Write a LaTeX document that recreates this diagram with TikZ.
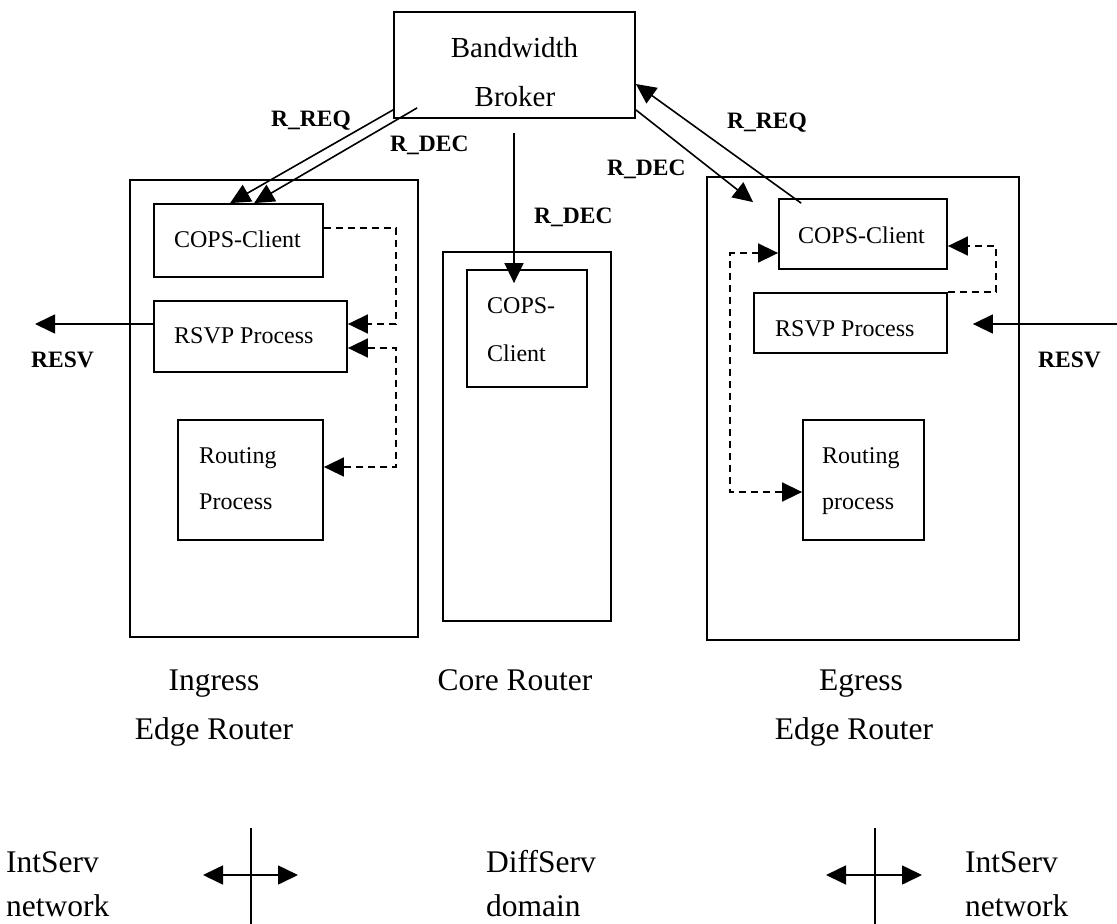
\documentclass[tikz,border=0pt]{standalone}
\usepackage{fontspec}
\setmainfont{Liberation Serif}
\usetikzlibrary{arrows.meta}
\begin{document}
\begin{tikzpicture}[x=1pt,y=-1pt,
  >={Triangle[length=20pt,width=19pt]},
  box/.style={draw, line width=1.8pt, inner sep=0pt},
  txt/.style={inner sep=0pt, font=\fontsize{24}{28}\selectfont},
  big/.style={inner sep=0pt, font=\fontsize{29}{34}\selectfont},
  caption/.style={inner sep=0pt, font=\fontsize{31.5}{36}\selectfont},
  msg/.style={inner sep=0pt, font=\fontsize{23.5}{28}\selectfont\bfseries},
  link/.style={line width=1.6pt, ->},
  local/.style={line width=1.6pt, dash pattern=on 7pt off 5pt},
  border/.style={line width=1.3pt}
]
\useasboundingbox (0,0) rectangle (1117,924);

% Bandwidth broker
\node[box, minimum width=241pt, minimum height=106pt] (broker) at (514.5,65) {};
\node[big, anchor=base] (bbw) at (514.5,57) {Bandwidth};
\node[big, anchor=base] (bbr) at (515,106) {Broker};

% Ingress edge router
\node[box, minimum width=288pt, minimum height=457pt] (ingress) at (274,408.5) {};
\node[box, minimum width=169pt, minimum height=73pt] (iCOPS) at (238.5,240.5) {};
\node[txt, anchor=base] (iCOPSt) at (237.5,247) {COPS-Client};
\node[box, minimum width=193pt, minimum height=71pt] (iRSVP) at (250.5,336.5) {};
\node[txt, anchor=base west] (iRSVPt) at (174,343) {RSVP Process};
\node[box, minimum width=145pt, minimum height=120pt] (iRout) at (250.5,480) {};
\node[txt, anchor=base west] (iRoutt1) at (199,463) {Routing};
\node[txt, anchor=base west] (iRoutt2) at (199,509) {Process};

% Core router
\node[box, minimum width=168pt, minimum height=369pt] (core) at (527,436.5) {};
\node[box, minimum width=120pt, minimum height=117pt] (cCOPS) at (527,328.5) {};
\node[txt, anchor=base west] (cCOPSt1) at (487,313) {COPS-};
\node[txt, anchor=base west] (cCOPSt2) at (487,361) {Client};

% Egress edge router
\node[box, minimum width=312pt, minimum height=463pt] (egress) at (863,408.5) {};
\node[box, minimum width=168pt, minimum height=70pt] (eCOPS) at (863,234) {};
\node[txt, anchor=base] (eCOPSt) at (861.5,243) {COPS-Client};
\node[box, minimum width=193pt, minimum height=60pt] (eRSVP) at (850.5,323) {};
\node[txt, anchor=base west] (eRSVPt) at (775,336) {RSVP Process};
\node[box, minimum width=121pt, minimum height=120pt] (eRout) at (863.5,480) {};
\node[txt, anchor=base west] (eRoutt1) at (822,463) {Routing};
\node[txt, anchor=base west] (eRoutt2) at (822,509) {process};

% COPS messages
\draw[link] ([yshift=9pt]broker.south west) -- ([xshift=77pt]iCOPS.north west);
\draw[link] ([xshift=24pt,yshift=11pt]broker.south west) -- ([xshift=101pt]iCOPS.north west);
\draw[link] ([xshift=-0.5pt,yshift=-14pt]broker.south) -- ([xshift=-0.5pt,yshift=-14pt]broker.south |- cCOPS.north);
\draw[link] ([yshift=9pt]broker.south east) -- ([xshift=-25pt,yshift=-4pt]eCOPS.north west);
\draw[link] ([xshift=23pt,yshift=-5pt]eCOPS.north west) -- ([yshift=-19pt]broker.east);

\node[msg, anchor=base west] (reqL) at (271,126) {R\_REQ};
\node[msg, anchor=base west] (decL) at (390,151) {R\_DEC};
\node[msg, anchor=base west] (decC) at (534,223) {R\_DEC};
\node[msg, anchor=base west] (decR) at (607,175) {R\_DEC};
\node[msg, anchor=base west] (reqR) at (727,128) {R\_REQ};

% Internal signalling, ingress
\draw[local, ->] ([yshift=12.5pt]iCOPS.east) -- ++(72,0) |- ([yshift=12.5pt]iRSVP.east);
\draw[local, <->] ([yshift=-11.5pt]iRSVP.east) -- ++(48,0) |- ([yshift=13pt]iRout.east);

% Internal signalling, egress
\draw[local, ->] (eRSVP.north east) -- ++(48,0) |- ([yshift=-12pt]eCOPS.east);
\draw[local, <->] ([yshift=-19pt]eCOPS.west) -- ++(-48,0) |- ([yshift=-12pt]eRout.west);

% RESV messages
\coordinate (resvL) at (35,324);
\coordinate (resvR) at (1117,324);
\draw[link] ([yshift=12.5pt]iRSVP.west) -- (resvL);
\draw[link] (resvR) -- ([xshift=25pt,yshift=-1pt]eRSVP.east);
\node[msg, anchor=base west] (resvLt) at (31,367) {RESV};
\node[msg, anchor=base west] (resvRt) at (1038,367) {RESV};

% Router captions
\node[caption, anchor=base] (capI1) at (214,690) {Ingress};
\node[caption, anchor=base] (capI2) at (214,739) {Edge Router};
\node[caption, anchor=base] (capC) at (515,690) {Core Router};
\node[caption, anchor=base] (capE1) at (861,690) {Egress};
\node[caption, anchor=base] (capE2) at (854,739) {Edge Router};

% Domain boundaries
\node[caption, anchor=base west] (dom1a) at (6,872) {IntServ};
\node[caption, anchor=base west] (dom1b) at (6,916) {network};
\node[caption, anchor=base west] (dom2a) at (486,872) {DiffServ};
\node[caption, anchor=base west] (dom2b) at (486,916) {domain};
\node[caption, anchor=base west] (dom3a) at (965,872) {IntServ};
\node[caption, anchor=base west] (dom3b) at (965,916) {network};

\coordinate (b1l) at (203,875);
\coordinate (b1r) at (298,875);
\coordinate (b1t) at (251,828);
\coordinate (b1b) at (251,924);
\coordinate (b2l) at (826,875);
\coordinate (b2r) at (922,875);
\coordinate (b2t) at (875,828);
\coordinate (b2b) at (875,924);
\draw[link, <->] (b1l) -- (b1r);
\draw[border] (b1t) -- (b1b);
\draw[link, <->] (b2l) -- (b2r);
\draw[border] (b2t) -- (b2b);
\end{tikzpicture}
\end{document}
